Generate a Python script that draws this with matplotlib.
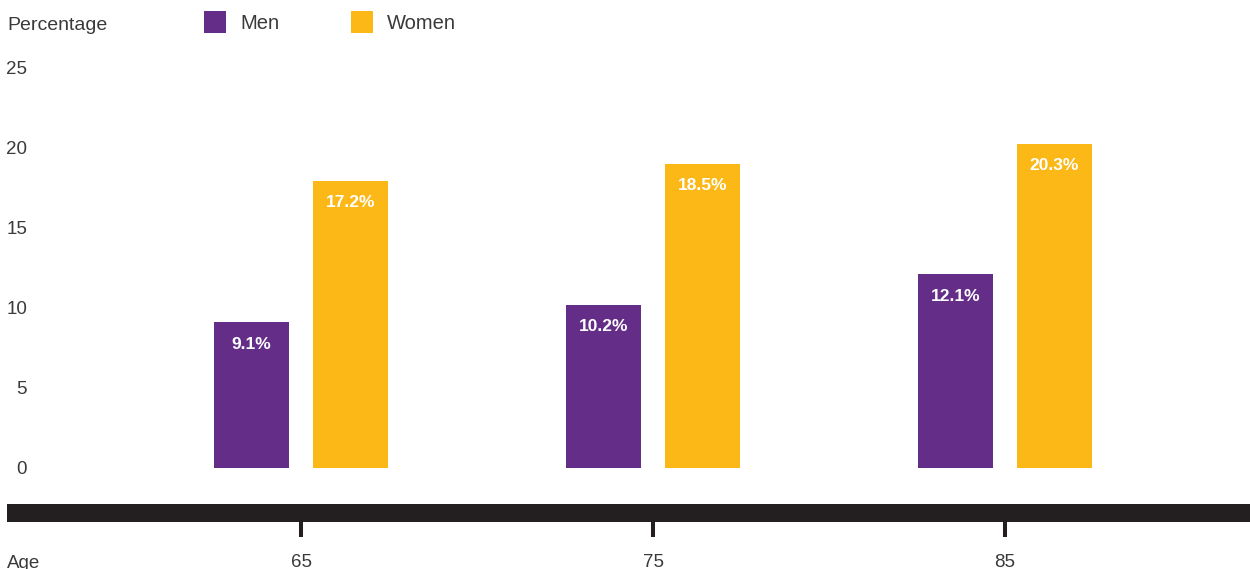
import matplotlib
matplotlib.use("Agg")
import matplotlib.pyplot as plt
import numpy as np

# ---- data ----
ages = ["65", "75", "85"]
men = [9.1, 10.2, 12.1]
women = [17.95, 19.0, 20.25]          # bar heights as drawn in the reference
men_labels = ["9.1%", "10.2%", "12.1%"]
women_labels = ["17.2%", "18.5%", "20.3%"]
yticks = [0, 5, 10, 15, 20, 25]
series_names = ["Men", "Women"]

PURPLE = "#642d88"
YELLOW = "#fbb817"
DARK = "#231f20"
TEXT = "#3a3a3a"

plt.rcParams['font.family'] = ['Liberation Sans', 'DejaVu Sans']

W, H = 1250, 569
fig = plt.figure(figsize=(W / 100, H / 100), dpi=100)

def px(x0, y0, x1, y1):
    # pixel box (top-left origin) -> figure fraction rect
    return [x0 / W, 1 - y1 / H, (x1 - x0) / W, (y1 - y0) / H]

ax = fig.add_axes(px(7, 68, 1250, 468))
ax2 = fig.add_axes(px(7, 504, 1250, 522), sharex=ax)

x = np.arange(len(ages))
unit = 352.0
x0px = 301
bw = 75 / unit
off = 49.5 / unit

b1 = ax.bar(x - off, men, width=bw, color=PURPLE, label=series_names[0])
b2 = ax.bar(x + off, women, width=bw, color=YELLOW, label=series_names[1])

for bars, labs in ((b1, men_labels), (b2, women_labels)):
    for rect, lab in zip(bars, labs):
        ax.annotate(lab, (rect.get_x() + rect.get_width() / 2, rect.get_height()),
                    xytext=(0, -15.6), textcoords="offset points",
                    ha="center", va="center", color="white",
                    fontsize=12.5, fontweight="bold")

ax.set_xlim(-(x0px - 7) / unit, (1250 - x0px) / unit)
ax.set_ylim(0, 25)
ax.set_yticks(yticks)
ax.set_yticklabels([str(t) for t in yticks])
ax.tick_params(axis="y", length=0, pad=-14.4, labelsize=13.5, labelcolor=TEXT)
for lab in ax.get_yticklabels():
    lab.set_horizontalalignment("right")
ax.tick_params(axis="x", bottom=False, labelbottom=False)
for s in ax.spines.values():
    s.set_visible(False)
ax.patch.set_alpha(0)

ax2.set_facecolor(DARK)
for s in ax2.spines.values():
    s.set_visible(False)
ax2.set_yticks([])
ax2.set_xticks(x)
ax2.set_xticklabels(ages)
ax2.tick_params(axis="x", direction="out", length=10.8, width=2.9, color=DARK,
                pad=12, labelsize=13.5, labelcolor=TEXT)

fig.text(7 / W, 1 - 25 / H, "Percentage", ha="left", va="center",
         fontsize=14, color=TEXT)
fig.text(7 / W, 1 - 563 / H, "Age", ha="left", va="center",
         fontsize=13.5, color=TEXT)

fs_leg = 14.5
leg = fig.legend(handles=[b1, b2], labels=series_names, loc="upper left",
                 bbox_to_anchor=(204 / W, 1 - 11 / H), ncol=2, frameon=False,
                 fontsize=fs_leg, handlelength=1.1, handleheight=1.32,
                 handletextpad=0.7, columnspacing=3.55, borderpad=0,
                 borderaxespad=0, labelcolor=TEXT)

fig.savefig("out.png", dpi=100)
